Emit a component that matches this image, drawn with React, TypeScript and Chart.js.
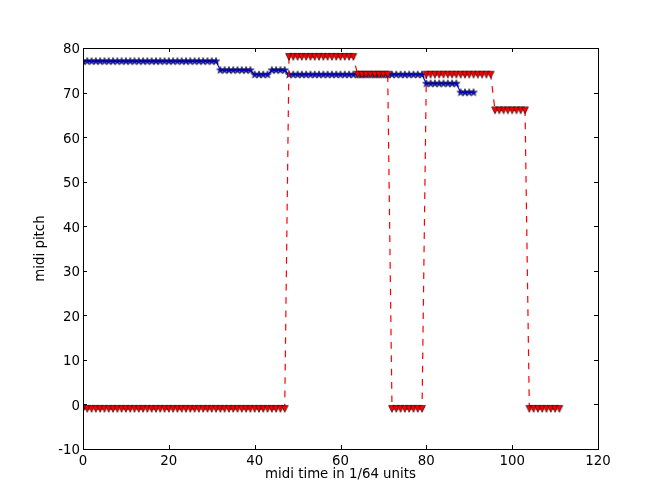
import React, { useEffect, useRef } from "react";
import { Chart, registerables } from "chart.js";

Chart.register(...registerables);

// midi time (1/64 units)
const TIME = [
  0, 1, 2, 3, 4, 5, 6, 7, 8, 9, 10, 11, 12, 13, 14, 15,
  16, 17, 18, 19, 20, 21, 22, 23, 24, 25, 26, 27, 28, 29, 30, 31,
  32, 33, 34, 35, 36, 37, 38, 39, 40, 41, 42, 43, 44, 45, 46, 47,
  48, 49, 50, 51, 52, 53, 54, 55, 56, 57, 58, 59, 60, 61, 62, 63,
  64, 65, 66, 67, 68, 69, 70, 71, 72, 73, 74, 75, 76, 77, 78, 79,
  80, 81, 82, 83, 84, 85, 86, 87, 88, 89, 90, 91, 92, 93, 94, 95,
  96, 97, 98, 99, 100, 101, 102, 103, 104, 105, 106, 107, 108, 109, 110, 111,
];

// blue stars (solid line)
const MELODY_PITCH = [
  77, 77, 77, 77, 77, 77, 77, 77, 77, 77, 77, 77, 77, 77, 77, 77,
  77, 77, 77, 77, 77, 77, 77, 77, 77, 77, 77, 77, 77, 77, 77, 77,
  75, 75, 75, 75, 75, 75, 75, 75, 74, 74, 74, 74, 75, 75, 75, 75,
  74, 74, 74, 74, 74, 74, 74, 74, 74, 74, 74, 74, 74, 74, 74, 74,
  74, 74, 74, 74, 74, 74, 74, 74, 74, 74, 74, 74, 74, 74, 74, 74,
  72, 72, 72, 72, 72, 72, 72, 72, 70, 70, 70, 70,
];

// red triangles (dashed line)
const ACCOMP_PITCH = [
  -1, -1, -1, -1, -1, -1, -1, -1, -1, -1, -1, -1, -1, -1, -1, -1,
  -1, -1, -1, -1, -1, -1, -1, -1, -1, -1, -1, -1, -1, -1, -1, -1,
  -1, -1, -1, -1, -1, -1, -1, -1, -1, -1, -1, -1, -1, -1, -1, -1,
  78, 78, 78, 78, 78, 78, 78, 78, 78, 78, 78, 78, 78, 78, 78, 78,
  74, 74, 74, 74, 74, 74, 74, 74, -1, -1, -1, -1, -1, -1, -1, -1,
  74, 74, 74, 74, 74, 74, 74, 74, 74, 74, 74, 74, 74, 74, 74, 74,
  66, 66, 66, 66, 66, 66, 66, 66, -1, -1, -1, -1, -1, -1, -1, -1,
];

const X_TICKS = [0, 20, 40, 60, 80, 100, 120];
const Y_TICKS = [-10, 0, 10, 20, 30, 40, 50, 60, 70, 80];

const X_LABEL = "midi time in 1/64 units";
const Y_LABEL = "midi pitch";

const FONT = { family: "'DejaVu Sans', sans-serif", size: 13.33 };

function makeStar(fill: string): HTMLCanvasElement {
  const c = document.createElement("canvas");
  c.width = 10;
  c.height = 10;
  const ctx = c.getContext("2d")!;
  const R = 3.9;
  const r = R * 0.381966;
  ctx.beginPath();
  for (let i = 0; i < 10; i++) {
    const a = -Math.PI / 2 + (i * Math.PI) / 5;
    const rad = i % 2 === 0 ? R : r;
    const px = 5 + rad * Math.cos(a);
    const py = 5 + rad * Math.sin(a);
    if (i === 0) ctx.moveTo(px, py);
    else ctx.lineTo(px, py);
  }
  ctx.closePath();
  ctx.fillStyle = fill;
  ctx.fill();
  ctx.lineWidth = 0.6;
  ctx.strokeStyle = "#000";
  ctx.stroke();
  return c;
}

function makeTriDown(fill: string): HTMLCanvasElement {
  const c = document.createElement("canvas");
  c.width = 10;
  c.height = 10;
  const ctx = c.getContext("2d")!;
  const s = 3.4;
  ctx.beginPath();
  ctx.moveTo(5 - s, 5 - s);
  ctx.lineTo(5 + s, 5 - s);
  ctx.lineTo(5, 5 + s);
  ctx.closePath();
  ctx.fillStyle = fill;
  ctx.fill();
  ctx.lineWidth = 0.6;
  ctx.strokeStyle = "#000";
  ctx.stroke();
  return c;
}

const axesFrame = {
  id: "axesFrame",
  afterDatasetsDraw(chart: any) {
    const { ctx, chartArea, scales } = chart;
    const { left, right, top, bottom } = chartArea;
    const xs = scales.x;
    const ys = scales.y;
    const L = 4;
    ctx.save();
    ctx.strokeStyle = "#000";
    ctx.lineWidth = 1;
    ctx.beginPath();
    xs.ticks.forEach((t: any) => {
      const px = Math.round(xs.getPixelForValue(t.value)) + 0.5;
      ctx.moveTo(px, bottom);
      ctx.lineTo(px, bottom - L);
      ctx.moveTo(px, top);
      ctx.lineTo(px, top + L);
    });
    ys.ticks.forEach((t: any) => {
      const py = Math.round(ys.getPixelForValue(t.value)) + 0.5;
      ctx.moveTo(left, py);
      ctx.lineTo(left + L, py);
      ctx.moveTo(right, py);
      ctx.lineTo(right - L, py);
    });
    ctx.stroke();
    ctx.strokeRect(left + 0.5, top + 0.5, right - left, bottom - top);
    ctx.restore();
  },
};

export default function App() {
  const ref = useRef<HTMLCanvasElement | null>(null);

  useEffect(() => {
    document.body.style.margin = "0";
    const canvas = ref.current!;
    const star = makeStar("#0000ff");
    const tri = makeTriDown("#ff0000");

    const melody = MELODY_PITCH.map((v, i) => ({ x: TIME[i], y: v }));
    const accomp = ACCOMP_PITCH.map((v, i) => ({ x: TIME[i], y: v }));

    const chart = new Chart(canvas, {
      type: "line",
      data: {
        datasets: [
          {
            data: melody,
            borderColor: "#0000ff",
            borderWidth: 1.1,
            pointStyle: star as any,
            pointRadius: 4,
            pointHoverRadius: 4,
            tension: 0,
            fill: false,
            order: 1,
          },
          {
            data: accomp,
            borderColor: "#ff0000",
            borderWidth: 1.2,
            borderDash: [6.67, 6.67],
            pointStyle: tri as any,
            pointRadius: 4,
            pointHoverRadius: 4,
            tension: 0,
            fill: false,
            order: 0,
          },
        ],
      },
      options: {
        animation: false,
        responsive: false,
        devicePixelRatio: 1,
        events: [],
        layout: { padding: { top: 48, right: 66, left: 0, bottom: 0 } },
        plugins: {
          legend: { display: false },
          tooltip: { enabled: false },
          title: { display: false },
        },
        scales: {
          x: {
            type: "linear",
            min: 0,
            max: 120,
            grid: { display: false, drawTicks: false },
            border: { display: false },
            afterBuildTicks: (s: any) => {
              s.ticks = X_TICKS.map((v) => ({ value: v }));
            },
            afterFit: (s: any) => {
              s.height = 52;
            },
            ticks: {
              color: "#000",
              font: FONT,
              padding: 5,
              maxRotation: 0,
              autoSkip: false,
            },
            title: {
              display: true,
              text: X_LABEL,
              color: "#000",
              font: FONT,
              padding: { top: 0, bottom: 18 },
            },
          },
          y: {
            type: "linear",
            min: -10,
            max: 80,
            grid: { display: false, drawTicks: false },
            border: { display: false },
            afterBuildTicks: (s: any) => {
              s.ticks = Y_TICKS.map((v) => ({ value: v }));
            },
            afterFit: (s: any) => {
              s.width = 83;
            },
            ticks: {
              color: "#000",
              font: FONT,
              padding: 3,
              labelOffset: 2,
              autoSkip: false,
            },
            title: {
              display: true,
              text: Y_LABEL,
              color: "#000",
              font: FONT,
              padding: { top: 33, bottom: 0 },
            },
          },
        },
      },
      plugins: [axesFrame],
    });
    return () => chart.destroy();
  }, []);

  return <canvas ref={ref} width={664} height={501} style={{ display: "block" }} />;
}
